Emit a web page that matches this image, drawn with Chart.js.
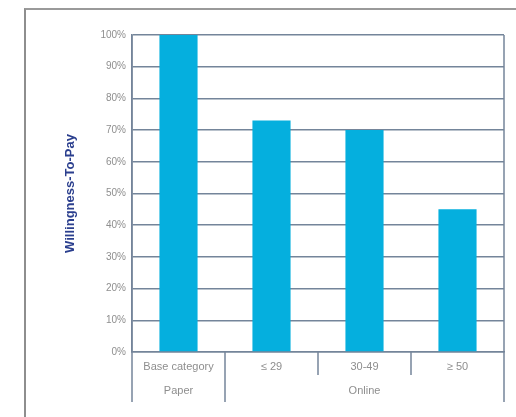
<!DOCTYPE html>
<html>
<head>
<meta charset="utf-8">
<script src="https://cdn.jsdelivr.net/npm/chart.js@4/dist/chart.umd.min.js"></script>
<style>
  html, body { margin: 0; padding: 0; background: #fff; }
  #wrap { position: relative; width: 516px; height: 417px; overflow: hidden; }
  #frame { position: absolute; left: 24px; top: 8px; width: 520px; height: 420px;
           border-left: 2px solid #8e8e8e; border-top: 2px solid #9a9a9a; }
  canvas { position: absolute; left: 0; top: 0; }
</style>
</head>
<body>
<div id="wrap">
  <div id="frame"></div>
  <canvas id="c" width="516" height="417"></canvas>
</div>
<script>
// Willingness-to-pay by format and age group
const categories = ['Base category', '\u2264 29', '30-49', '\u2265 50'];
const wtpValues = [100, 73, 70, 45];
const groups = [
  { label: 'Paper', from: 0, to: 0 },
  { label: 'Online', from: 1, to: 3 }
];
const yTicks = [0, 10, 20, 30, 40, 50, 60, 70, 80, 90, 100];

const lineColor = '#74859a';
const textColor = '#8e8e8e';
const fontFamily = '"Liberation Sans", Arial, sans-serif';

// Category table under the plot: separators and group labels
const tablePlugin = {
  id: 'categoryTable',
  afterDraw(chart) {
    const ctx = chart.ctx;
    const x = chart.scales.x;
    const area = chart.chartArea;
    const n = categories.length;
    const half = (x.getPixelForValue(1) - x.getPixelForValue(0)) / 2;
    const rowBottom = area.bottom + 23;
    const tableBottom = area.bottom + 50;
    ctx.save();
    ctx.strokeStyle = lineColor;
    ctx.lineWidth = 1.5;
    // group boundaries run the full table height, inner boundaries only the first row
    const groupEdges = new Set(groups.map(g => g.to));
    for (let i = 0; i < n - 1; i++) {
      const px = Math.round(x.getPixelForValue(i) + half);
      const bottom = groupEdges.has(i) ? tableBottom : rowBottom;
      ctx.beginPath();
      ctx.moveTo(px, area.bottom);
      ctx.lineTo(px, bottom);
      ctx.stroke();
    }
    // outer left/right rules
    [area.left, area.right].forEach(px => {
      ctx.beginPath();
      ctx.moveTo(Math.round(px), area.top);
      ctx.lineTo(Math.round(px), tableBottom);
      ctx.stroke();
    });
    // group labels
    ctx.fillStyle = textColor;
    ctx.font = '11px ' + fontFamily;
    ctx.textAlign = 'center';
    ctx.textBaseline = 'middle';
    groups.forEach(g => {
      const cx = (x.getPixelForValue(g.from) + x.getPixelForValue(g.to)) / 2;
      ctx.fillText(g.label, cx, area.bottom + 39);
    });
    ctx.restore();
  }
};

new Chart(document.getElementById('c'), {
  type: 'bar',
  data: {
    labels: categories,
    datasets: [{
      data: wtpValues,
      backgroundColor: '#05afde',
      borderWidth: 0,
      barPercentage: 0.41,
      categoryPercentage: 1.0
    }]
  },
  options: {
    responsive: false,
    animation: false,
    layout: { padding: { left: 60, right: 12, top: 35, bottom: 0 } },
    plugins: { legend: { display: false }, tooltip: { enabled: false } },
    scales: {
      x: {
        grid: { display: false, drawTicks: false },
        border: { display: true, color: lineColor, width: 1.5 },
        ticks: {
          color: textColor,
          font: { family: fontFamily, size: 11 },
          padding: 8,
          maxRotation: 0,
          autoSkip: false
        },
        afterFit(scale) { scale.height = 65; }
      },
      y: {
        min: 0,
        max: 100,
        afterBuildTicks(scale) { scale.ticks = yTicks.map(v => ({ value: v })); },
        grid: { color: lineColor, lineWidth: 1.5, drawTicks: false },
        border: { display: true, color: lineColor, width: 1.5 },
        ticks: {
          color: textColor,
          font: { family: fontFamily, size: 10 },
          padding: 6,
          callback: v => v + '%'
        },
        title: {
          display: true,
          text: 'Willingness-To-Pay',
          color: '#2b3f8e',
          font: { family: fontFamily, size: 13, weight: 'bold' },
          padding: { top: 3, bottom: 4 }
        },
        afterFit(scale) { scale.width = 72; }
      }
    }
  },
  plugins: [tablePlugin]
});
</script>
</body>
</html>
